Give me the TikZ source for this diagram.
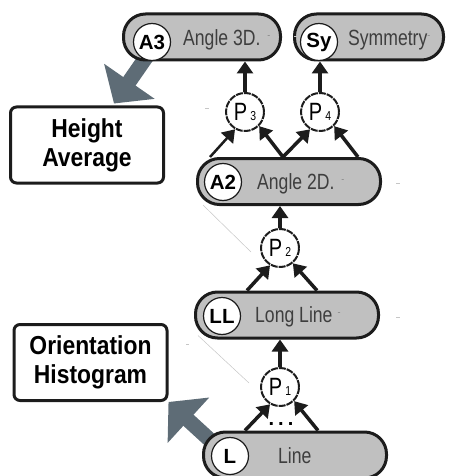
\documentclass[tikz,border=0pt]{standalone}
\usepackage{fontspec}
\usepackage{graphicx}
\setmainfont{Liberation Sans}
\usetikzlibrary{arrows.meta,backgrounds}
\definecolor{pillgray}{RGB}{192,192,192}
\definecolor{slate}{RGB}{94,108,118}
\definecolor{ink}{RGB}{28,28,28}
\newcommand{\nar}[1]{\scalebox{0.8}[1]{#1}}
\newcommand{\wid}[1]{\scalebox{0.88}[1]{#1}}
\newcommand{\psub}[1]{{\fontsize{13}{13}\selectfont #1}}
\newcommand{\smdash}{{\fontsize{9}{9}\selectfont\color{gray}\raisebox{7pt}{-}}}

\begin{document}
\begin{tikzpicture}[x=1pt, y=-1pt, line join=round, >={Triangle[width=16pt,length=12pt]},
    pill/.style={draw=ink, line width=3pt, fill=pillgray, rounded corners=22pt, minimum width=#1, minimum height=46pt, inner sep=0pt},
    tag/.style={circle, draw=ink, line width=1.2pt, fill=white, minimum size=37pt, inner sep=0pt, font=\fontsize{20.5}{20.5}\selectfont\bfseries},
    pilltext/.style={anchor=base west, inner sep=0pt, text=ink!85, font=\fontsize{22}{22}\selectfont},
    pnode/.style={circle, draw=ink, line width=2pt, dash pattern=on 7pt off 1pt, fill=white, minimum size=38pt, inner sep=0pt, font=\fontsize{25}{25}\selectfont},
    featbox/.style={draw=ink, line width=3pt, rounded corners=6pt, fill=white, minimum width=153pt, minimum height=76pt, align=center, font=\fontsize{26}{29}\selectfont\bfseries},
    link/.style={->, ink, line width=4pt},
    bigarrow/.style={slate, line width=15pt, -{Triangle[width=60pt,length=27pt]}},
    faint/.style={gray!45, line width=0.5pt}]
  \useasboundingbox (0,0) rectangle (448,476);
  \clip (0,0) rectangle (448,476);

  \node[featbox] (hgt) at (87,145) {\wid{Height}\\\wid{Average}};
  \node[featbox] (ori) at (90.5,362.5) {\wid{Orientation}\\\wid{Histogram}};

  \node[pill=157pt] (a3) at (202,37) {};
  \node[pill=149pt] (sy) at (369,37) {};
  \node[pill=183pt] (a2) at (289,181.5) {};
  \node[pill=183pt] (ll) at (287,315) {};
  \node[pill=183pt] (l) at (295,455) {};

  \node[tag] (a3c) at (152,42) {A3};
  \node[tag] (syc) at (319,42) {Sy};
  \node[tag] (a2c) at (223,182) {A2};
  \node[tag] (llc) at (222,316) {LL};
  \node[tag] (lc) at (230,456) {L};

  \node[pilltext] (a3t) at (183,46) {\nar{Angle 3D.}\hspace{7pt}\smdash};
  \node[pilltext] (syt) at (348,46) {\nar{Symmetry}\smdash};
  \node[pilltext] (a2t) at (257,189) {\nar{Angle 2D.}\hspace{7pt}\smdash};
  \node[pilltext] (llt) at (255,322) {\nar{Long Line}\hspace{5pt}\smdash};
  \node[pilltext] (lt) at (278,463) {\nar{Line}};

  \node[pnode] (p3) at (245,112) {\nar{P\,\psub{3}}};
  \node[pnode] (p4) at (320,112) {\nar{P\,\psub{4}}};
  \node[pnode] (p2) at (280,248) {\nar{P\,\psub{2}}};
  \node[pnode] (p1) at (280,387) {\nar{P\,\psub{1}}};
  \node[anchor=base, inner sep=0pt, font=\fontsize{20}{20}\selectfont\bfseries] (dots) at (281,425) {.\hspace{4pt}.\hspace{4pt}.};

  \begin{scope}[on background layer]
    \draw[bigarrow] ([xshift=26pt,yshift=7pt]a3.south west) -- ([xshift=27pt,yshift=2pt]hgt.north);
    \draw[bigarrow] ([xshift=20pt,yshift=4pt]l.west) -- (ori.south east);
    \draw[faint] ([xshift=7pt,yshift=1pt]a2.south west) -- ([xshift=-9pt,yshift=-4pt]p2.west);
    \draw[faint] ([xshift=4pt,yshift=4pt]ll.south west) -- ([xshift=-11pt,yshift=4pt]p1.west);
  \end{scope}

  \draw[link] (p3.north) -- (p3.north |- a3.south);
  \draw[link] (p4.north) -- (p4.north |- sy.south);
  \draw[link] (p2.north) -- (p2.north |- a2.south);
  \draw[link] (p1.north) -- (p1.north |- ll.south);

  \draw[link, line width=2.5pt] ([xshift=14pt]a2.north west) -- (p3.240);
  \draw[link, line width=3.5pt] ([xshift=-6pt]a2.north) -- (p3.-45);
  \draw[link, line width=3.5pt] ([xshift=-6pt]a2.north) -- (p4.240);
  \draw[link, line width=3.5pt] ([xshift=69pt]a2.north) -- (p4.-45);
  \draw[link, line width=3.5pt] ([xshift=-40pt]ll.north) -- (p2.240);
  \draw[link, line width=3.5pt] ([xshift=30pt]ll.north) -- (p2.-50);
  \draw[link, line width=3.5pt] ([xshift=-50pt]l.north) -- (p1.240);
  \draw[link, line width=3.5pt] ([xshift=23pt]l.north) -- (p1.-45);

  \draw[faint] (205,108) -- (209,108);
  \draw[faint] (294,36) -- (297,36);
  \draw[faint] (396,183) -- (400,183);
  \draw[faint] (396,317) -- (400,317);
  \draw[faint] (186,344) -- (189,344);
\end{tikzpicture}
\end{document}
